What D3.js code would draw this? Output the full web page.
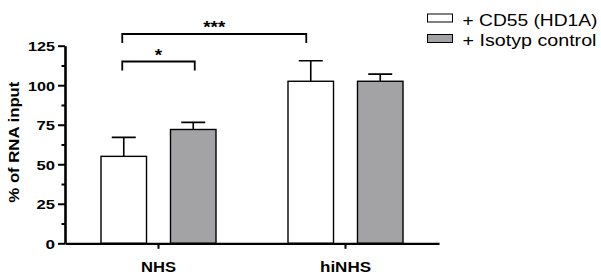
<!DOCTYPE html>
<html>
<head>
<meta charset="utf-8">
<script src="https://cdn.jsdelivr.net/npm/d3@7"></script>
<style>
	body { margin: 0; background: #fff; }
	text { font-family: "Liberation Sans", Arial, sans-serif; fill: #000; }
</style>
</head>
<body>
<div class="chart-container"></div>
<script>
//---->DATA<-----//
const groups = ['NHS', 'hiNHS'],
	series = ['+ CD55 (HD1A)', '+ Isotyp control'],
	seriesFill = ['#ffffff', '#a3a3a6'];

const means = {
	'NHS': [55, 72],
	'hiNHS': [102.5, 102.5]
};
const errors = {
	'NHS': [12, 4.5],
	'hiNHS': [13, 4.5]
};

const yTicks = [0, 25, 50, 75, 100, 125],
	yMinorTicks = [12.5, 37.5, 62.5, 87.5, 112.5];

// significance brackets: [from group, from series], [to group, to series], level, label
const comparisons = [
	{ a: ['NHS', 0], b: ['NHS', 1], level: 115, label: '*' },
	{ a: ['NHS', 0], b: ['hiNHS', 0], level: 132.4, label: '***' }
];

//---->LAYOUT<-----//
const outerW = 601,
	outerH = 277;

const svg = d3.select('.chart-container').append('svg')
	.attr('width', outerW)
	.attr('height', outerH);

const x0 = d3.scaleBand()
	.domain(groups)
	.range([65, 439])
	.padding(0);

const x1 = d3.scaleBand()
	.domain(d3.range(series.length))
	.range([x0.bandwidth() / 2 - 57.5, x0.bandwidth() / 2 + 57.5])
	.paddingInner(0.345)
	.paddingOuter(0);

const y = d3.scaleLinear()
	.domain([0, 125])
	.range([243.3, 45.7]);

const barCenter = (g, i) => x0(g) + x1(i) + x1.bandwidth() / 2;

// Bars
const gBars = svg.append('g');

groups.forEach(grp => {
	const gg = gBars.append('g')
		.attr('transform', `translate(${x0(grp)}, 0)`);

	// error bars (upper only)
	gg.selectAll('.err')
		.data(means[grp].map((m, i) => ({ i, m, e: errors[grp][i] })))
		.enter().append('path')
		.attr('class', 'err')
		.attr('d', d => {
			const cx = x1(d.i) + x1.bandwidth() / 2;
			return `M${cx},${y(d.m)}V${y(d.m + d.e)}M${cx - 12},${y(d.m + d.e)}H${cx + 12}`;
		})
		.attr('fill', 'none')
		.attr('stroke', '#000')
		.attr('stroke-width', 1.6);

	gg.selectAll('.bar')
		.data(means[grp].map((m, i) => ({ i, m })))
		.enter().append('rect')
		.attr('class', 'bar')
		.attr('x', d => x1(d.i))
		.attr('y', d => y(d.m))
		.attr('width', x1.bandwidth())
		.attr('height', d => y(0) - y(d.m))
		.attr('fill', d => seriesFill[d.i])
		.attr('stroke', '#000')
		.attr('stroke-width', 1.4);
});

// Y axis
const yAxis = svg.append('g')
	.attr('transform', 'translate(65, 0)')
	.call(d3.axisLeft(y)
		.tickValues(yTicks)
		.tickSize(7)
		.tickSizeOuter(0)
		.tickPadding(3)
	);
yAxis.select('.domain').attr('stroke-width', 2.6);
yAxis.selectAll('.tick line').attr('stroke-width', 2);
yAxis.selectAll('.tick text')
	.attr('font-size', 13.5)
	.attr('font-weight', 'bold')
	.attr('dy', '0.36em')
	.attr('textLength', d => d >= 100 ? 27 : (d > 0 ? 18.5 : 9.5))
	.attr('lengthAdjust', 'spacingAndGlyphs');

svg.append('g')
	.attr('transform', 'translate(65, 0)')
	.call(d3.axisLeft(y)
		.tickValues(yMinorTicks)
		.tickSize(3.5)
		.tickSizeOuter(0)
		.tickFormat('')
	)
	.call(g => g.select('.domain').remove())
	.selectAll('.tick line').attr('stroke-width', 2);

// X axis
const xAxis = svg.append('g')
	.attr('transform', `translate(0, ${y(0)})`)
	.call(d3.axisBottom(x0)
		.tickSize(5.5)
		.tickSizeOuter(0)
		.tickPadding(13)
	);
xAxis.select('.domain').attr('stroke-width', 2.2);
xAxis.selectAll('.tick line').attr('stroke-width', 2);
xAxis.selectAll('.tick text')
	.attr('font-size', 14)
	.attr('font-weight', 'bold')
	.attr('textLength', d => d === 'NHS' ? 35 : 51)
	.attr('lengthAdjust', 'spacingAndGlyphs');

// Y label
svg.append('text')
	.attr('transform', `translate(18.5, ${y(64)}) rotate(-90)`)
	.attr('text-anchor', 'middle')
	.attr('font-size', 15)
	.attr('font-weight', 'bold')
	.attr('textLength', 121)
	.attr('lengthAdjust', 'spacingAndGlyphs')
	.text('% of RNA input');

// Significance brackets
const gSig = svg.append('g');
comparisons.forEach(c => {
	const xa = barCenter(c.a[0], c.a[1]) - 1.5,
		xb = barCenter(c.b[0], c.b[1]) + (c.b[0] === c.a[0] ? 1.5 : -4.5),
		yl = y(c.level);
	gSig.append('path')
		.attr('d', `M${xa},${yl + 9}V${yl}H${xb}V${yl + 9}`)
		.attr('fill', 'none')
		.attr('stroke', '#000')
		.attr('stroke-width', 1.8);
	gSig.append('text')
		.attr('x', (xa + xb) / 2)
		.attr('y', yl - 1)
		.attr('text-anchor', 'middle')
		.attr('font-size', 16)
		.attr('font-weight', 'bold')
		.attr('textLength', c.label.length * 7.3)
		.attr('lengthAdjust', 'spacingAndGlyphs')
		.text(c.label);
});

// Legend
const legend = svg.append('g')
	.attr('transform', 'translate(427.5, 14)');

const li = legend.selectAll('.legend-item')
	.data(series)
	.enter().append('g')
	.attr('class', 'legend-item')
	.attr('transform', (d, i) => `translate(0, ${i * 20.5})`);

li.append('rect')
	.attr('width', 25)
	.attr('height', 8)
	.attr('fill', (d, i) => seriesFill[i])
	.attr('stroke', '#000')
	.attr('stroke-width', 1);

li.append('text')
	.attr('x', 35)
	.attr('y', 11.5)
	.attr('font-size', 16)
	.attr('textLength', (d, i) => i === 0 ? 135 : 134)
	.attr('lengthAdjust', 'spacingAndGlyphs')
	.text(d => d);
</script>
</body>
</html>
